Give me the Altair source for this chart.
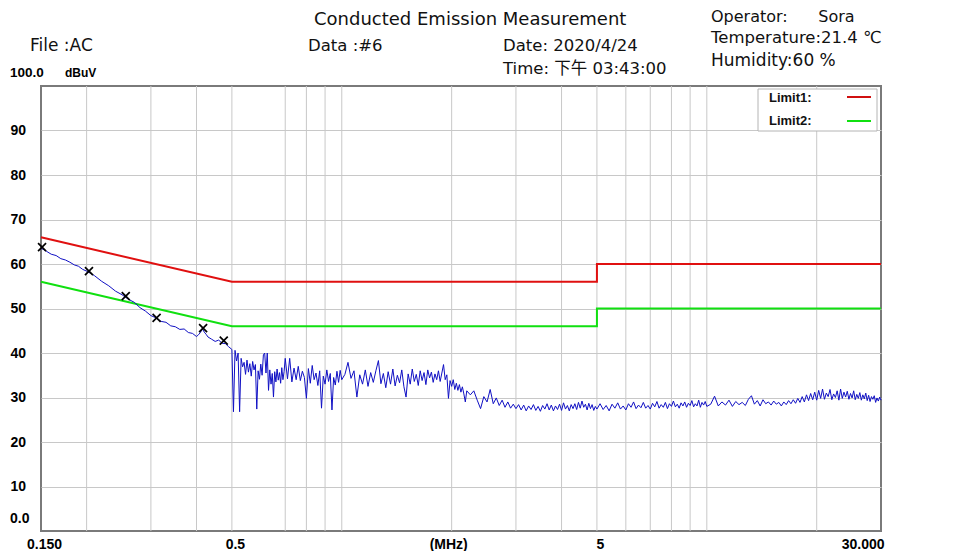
import altair as alt
import pandas as pd

FONT = "Liberation Sans, Arial, Noto Sans CJK SC, sans-serif"
HFONT = "DejaVu Sans, Liberation Sans, Noto Sans CJK SC, sans-serif"
NARROW = "Liberation Sans Narrow, Liberation Sans, Arial, sans-serif"

# ---------------- data ----------------
FREQ_A = [0.150, 0.152, 0.155, 0.16, 0.165, 0.17, 0.175, 0.18, 0.185, 0.19,
          0.195, 0.20, 0.205, 0.21, 0.22, 0.23, 0.24, 0.25, 0.26, 0.27,
          0.28, 0.29, 0.30, 0.31, 0.32, 0.33, 0.34, 0.35, 0.36, 0.37,
          0.38, 0.39, 0.40, 0.405, 0.41, 0.415, 0.42, 0.425, 0.43, 0.44,
          0.45, 0.46, 0.47, 0.48, 0.49, 0.50]
LEVEL_A = [63.5, 63.3, 62.9, 62.2, 61.9, 61.2, 60.9, 60.4, 59.8, 59.5,
           58.8, 58.4, 57.9, 57.4, 56.1, 55.1, 53.9, 53.1, 52.1, 51.4,
           50.2, 49.4, 48.4, 47.9, 47.1, 46.9, 46.1, 45.9, 45.3, 45.4,
           44.6, 44.4, 43.7, 44.1, 44.6, 45.5, 44.7, 44.2, 43.6, 43.1,
           42.6, 42.9, 42.2, 42.1, 41.4, 40.8]

FREQ_B1 = [0.505, 0.51, 0.515, 0.52, 0.525, 0.53, 0.535, 0.54, 0.545, 0.55,
           0.555, 0.56, 0.565, 0.57, 0.575, 0.58, 0.585, 0.59, 0.595, 0.60,
           0.605, 0.61, 0.615, 0.62, 0.625, 0.63, 0.635, 0.64, 0.645, 0.65,
           0.655, 0.66, 0.665, 0.67, 0.675, 0.68, 0.685, 0.69, 0.695, 0.70]
LEVEL_B1 = [26.8, 40.6, 38.2, 40.0, 26.8, 38.8, 36.9, 37.9, 35.2, 38.4,
            35.7, 37.6, 34.8, 38.1, 36.2, 37.4, 27.4, 36.0, 34.1, 37.5,
            35.0, 39.6, 40.0, 35.5, 40.0, 31.6, 36.2, 33.0, 35.4, 30.1,
            35.8, 33.5, 36.4, 33.9, 35.6, 33.2, 36.7, 34.0, 35.8, 38.8]

FREQ_B2 = [0.71, 0.72, 0.73, 0.74, 0.75, 0.76, 0.77, 0.78, 0.79, 0.80,
           0.81, 0.82, 0.83, 0.84, 0.85, 0.86, 0.87, 0.88, 0.89, 0.90,
           0.91, 0.92, 0.93, 0.94, 0.95, 0.96, 0.97, 0.98, 0.99, 1.00]
LEVEL_B2 = [34.2, 38.8, 33.5, 36.6, 34.0, 37.0, 33.8, 35.9, 34.5, 29.8,
            36.5, 33.2, 37.2, 34.0, 35.5, 32.7, 36.0, 27.6, 34.8, 33.0,
            36.2, 33.6, 35.4, 27.2, 34.5, 32.8, 35.9, 33.4, 36.1, 34.0]

FREQ_B3 = [1.02, 1.04, 1.06, 1.08, 1.10, 1.12, 1.14, 1.16, 1.18, 1.20,
           1.22, 1.24, 1.26, 1.28, 1.30, 1.32, 1.34, 1.36, 1.38, 1.40,
           1.42, 1.44, 1.46, 1.48, 1.50, 1.52, 1.54, 1.56, 1.58, 1.60,
           1.62, 1.64, 1.66, 1.68, 1.70, 1.72, 1.74, 1.76, 1.78, 1.80,
           1.82, 1.84, 1.86, 1.88, 1.90, 1.92, 1.94, 1.96, 1.98, 2.00,
           2.02, 2.04, 2.06, 2.08, 2.10, 2.12, 2.14, 2.16, 2.18, 2.20]
LEVEL_B3 = [35.2, 37.9, 34.3, 36.0, 30.1, 35.1, 33.0, 36.2, 32.5, 35.6,
            33.4, 36.0, 38.3, 33.1, 35.4, 32.2, 35.8, 33.0, 36.4, 32.6,
            35.0, 33.3, 36.2, 32.4, 30.1, 35.3, 33.0, 36.4, 33.6, 35.2,
            32.7, 36.0, 33.8, 35.6, 32.9, 36.2, 34.4, 35.7, 33.4, 35.3,
            34.0, 36.0, 33.6, 35.5, 37.4, 34.0, 35.1, 29.8, 33.8, 32.5,
            34.0, 31.8, 33.2, 31.6, 32.9, 31.2, 32.4, 30.8, 29.0, 31.5]

FREQ_B4 = [2.25, 2.30, 2.35, 2.40, 2.45, 2.50, 2.55, 2.60, 2.65, 2.70,
           2.75, 2.80, 2.85, 2.90, 2.95, 3.00, 3.05, 3.10, 3.15, 3.20,
           3.25, 3.30, 3.35, 3.40, 3.45, 3.50, 3.55, 3.60, 3.65, 3.70,
           3.75, 3.80, 3.85, 3.90, 3.95, 4.00, 4.05, 4.10, 4.15, 4.20,
           4.25, 4.30, 4.35, 4.40, 4.45, 4.50, 4.55, 4.60, 4.65, 4.70,
           4.75, 4.80, 4.85, 4.90, 4.95, 5.00]
LEVEL_B4 = [30.6, 31.5, 29.4, 27.5, 30.2, 29.0, 31.8, 28.6, 29.9, 28.2,
            29.4, 27.8, 29.0, 27.6, 28.5, 27.5, 28.4, 27.2, 28.3, 27.0,
            28.1, 27.3, 28.4, 27.1, 28.0, 26.9, 28.2, 27.4, 28.6, 27.2,
            28.3, 27.0, 28.1, 27.3, 28.5, 27.1, 28.8, 27.4, 28.2, 27.0,
            28.4, 27.5, 28.6, 27.3, 28.9, 27.6, 29.2, 27.8, 28.5, 27.2,
            28.7, 27.5, 28.4, 27.1, 28.0, 27.4]

FREQ_C = [5.1, 5.2, 5.3, 5.4, 5.5, 5.6, 5.7, 5.8, 5.9, 6.0,
          6.1, 6.2, 6.3, 6.4, 6.5, 6.6, 6.7, 6.8, 6.9, 7.0,
          7.1, 7.2, 7.3, 7.4, 7.5, 7.6, 7.7, 7.8, 7.9, 8.0,
          8.1, 8.2, 8.3, 8.4, 8.5, 8.6, 8.7, 8.8, 8.9, 9.0,
          9.1, 9.2, 9.3, 9.4, 9.5, 9.6, 9.7, 9.8, 9.9, 10.0]
LEVEL_C = [28.6, 27.3, 28.2, 27.0, 28.5, 27.6, 28.8, 27.4, 28.1, 27.2,
           28.6, 27.8, 29.0, 27.5, 28.3, 27.7, 28.9, 27.6, 28.2, 27.4,
           28.7, 27.9, 29.1, 27.6, 28.4, 27.8, 28.9, 27.5, 28.6, 28.0,
           29.2, 27.9, 28.5, 27.6, 28.8, 28.1, 29.0, 27.8, 28.7, 28.2,
           29.3, 27.9, 28.6, 28.1, 29.4, 27.8, 28.9, 28.3, 29.1, 28.0]

FREQ_D = [10.25, 10.50, 10.75, 11.00, 11.25, 11.50, 11.75, 12.00, 12.25, 12.50,
          12.75, 13.00, 13.25, 13.50, 13.75, 14.00, 14.25, 14.50, 14.75, 15.00,
          15.25, 15.50, 15.75, 16.00, 16.25, 16.50, 16.75, 17.00, 17.25, 17.50,
          17.75, 18.00, 18.25, 18.50, 18.75, 19.00, 19.25, 19.50, 19.75, 20.00,
          20.25, 20.50, 20.75, 21.00, 21.25, 21.50, 21.75, 22.00, 22.25, 22.50,
          22.75, 23.00, 23.25, 23.50, 23.75, 24.00, 24.25, 24.50, 24.75, 25.00,
          25.25, 25.50, 25.75, 26.00, 26.25, 26.50, 26.75, 27.00, 27.25, 27.50,
          27.75, 28.00, 28.25, 28.50, 28.75, 29.00, 29.25, 29.50, 29.75, 30.00]
LEVEL_D = [28.5, 30.3, 28.1, 29.0, 28.3, 29.4, 28.0, 29.1, 28.4, 28.9,
           28.2, 29.6, 30.4, 28.5, 29.3, 28.1, 29.5, 28.6, 29.0, 28.3,
           29.2, 28.5, 28.9, 28.1, 29.0, 28.4, 29.3, 28.6, 29.5, 28.7,
           29.8, 28.9, 30.2, 29.0, 30.6, 29.3, 30.9, 29.5, 31.2, 29.4,
           31.6, 29.8, 31.9, 29.6, 31.0, 30.2, 31.8, 29.5, 30.8, 30.0,
           31.5, 29.4, 31.9, 29.8, 31.2, 30.1, 31.4, 29.6, 30.9, 29.9,
           31.5, 29.5, 30.7, 29.8, 31.1, 29.4, 30.6, 29.7, 31.0, 29.3,
           30.5, 29.1, 30.2, 29.6, 30.4, 28.9, 29.9, 29.2, 30.1, 29.4]

LIMIT_FREQ = [0.15, 0.5, 5.0, 5.0, 30.0]
LIMIT1 = [66, 56, 56, 60, 60]
LIMIT2 = [56, 46, 46, 50, 50]

MARK_FREQ = [0.151, 0.203, 0.256, 0.311, 0.417, 0.475]
MARK_LEVEL = [63.8, 58.4, 52.8, 47.9, 45.6, 42.8]

GRID_FREQ = [0.2, 0.3, 0.4, 0.5, 0.7, 0.8, 0.9, 1, 2, 3, 4, 5, 6, 7, 8, 9, 10, 20]
Y_TICKS = [10, 20, 30, 40, 50, 60, 70, 80, 90]
X_TICKS = [0.15, 0.5, 1.92, 5, 30]

NB = "\u00a0"

# ---------------- tables ----------------
trace_f = FREQ_A + FREQ_B1 + FREQ_B2 + FREQ_B3 + FREQ_B4 + FREQ_C + FREQ_D
trace_v = LEVEL_A + LEVEL_B1 + LEVEL_B2 + LEVEL_B3 + LEVEL_B4 + LEVEL_C + LEVEL_D
trace = pd.DataFrame({"freq": trace_f, "level": trace_v, "i": range(len(trace_f))})
lim1 = pd.DataFrame({"freq": LIMIT_FREQ, "level": LIMIT1, "i": range(len(LIMIT_FREQ))})
lim2 = pd.DataFrame({"freq": LIMIT_FREQ, "level": LIMIT2, "i": range(len(LIMIT_FREQ))})
marks = pd.DataFrame({"freq": MARK_FREQ, "level": MARK_LEVEL})
grid = pd.DataFrame({"freq": GRID_FREQ})
ANCHOR = pd.DataFrame({"a": [0]})

XSCALE = alt.Scale(type="log", domain=[0.15, 30], nice=False, zero=False)
YSCALE = alt.Scale(domain=[0, 100], nice=False, zero=False)

XAXIS = alt.Axis(
    values=X_TICKS, title=None, grid=False, ticks=False, tickSize=0, domain=False,
    labelExpr="datum.value < 0.2 ? '0.150' : datum.value < 1 ? '0.5' : datum.value < 3 ? '(MHz)' : datum.value < 10 ? '5' : '30.000'",
    labelAlign={"condition": {"test": "datum.value > 20", "value": "right"}, "value": "center"},
    labelFont=FONT, labelFontSize=14, labelFontWeight="bold", labelColor="black",
    labelPadding=6, labelOverlap=False, labelBound=False, labelFlush=False, labelOffset=3,
)
YAXIS = alt.Axis(
    values=Y_TICKS, title=None, grid=True, gridColor="#c8c8c8", gridWidth=1,
    ticks=False, tickSize=0, domain=False,
    labelAlign="left", labelBaseline="middle", labelPadding=31,
    labelFont=FONT, labelFontSize=14, labelFontWeight="bold", labelColor="black",
    labelOverlap=False,
)

X_ENC = alt.X("freq:Q", scale=XSCALE, axis=XAXIS)
Y_ENC = alt.Y("level:Q", scale=YSCALE, axis=YAXIS)

grid_layer = alt.Chart(grid).mark_rule(color="#c8c8c8", strokeWidth=1).encode(x=X_ENC)

lim1_layer = alt.Chart(lim1).mark_line(color="#e01010", strokeWidth=2).encode(
    x=X_ENC, y=Y_ENC, order="i:Q")
lim2_layer = alt.Chart(lim2).mark_line(color="#10e010", strokeWidth=2).encode(
    x=X_ENC, y=Y_ENC, order="i:Q")
trace_layer = alt.Chart(trace).mark_line(color="#1010c4", strokeWidth=1).encode(
    x=X_ENC, y=Y_ENC, order="i:Q")
mark_layer = alt.Chart(marks).mark_point(
    shape="M -1 -1 L 1 1 M -1 1 L 1 -1", size=64, filled=False,
    stroke="black", strokeWidth=1.7, opacity=1).encode(x=X_ENC, y=Y_ENC)


def txt(text, x, y, size=16, weight="normal", font=HFONT, align="left", baseline="alphabetic"):
    return alt.Chart(ANCHOR).mark_text(
        text=text, align=align, baseline=baseline, font=font, fontSize=size,
        fontWeight=weight, color="#111111").encode(x=alt.value(x), y=alt.value(y))


# y end labels through the y scale
ylab0 = alt.Chart(pd.DataFrame({"level": [0]})).mark_text(
    text="0.0", align="left", baseline="middle", font=FONT, fontSize=14,
    fontWeight="bold", dy=-12, color="black").encode(x=alt.value(-31), y=Y_ENC)
ylab100 = alt.Chart(pd.DataFrame({"level": [100]})).mark_text(
    text="100.0", align="left", baseline="middle", font=FONT, fontSize=13.5,
    fontWeight="bold", dy=-13, color="black").encode(x=alt.value(-31), y=Y_ENC)
yunit = alt.Chart(pd.DataFrame({"level": [100]})).mark_text(
    text="dBuV", align="left", baseline="middle", font=FONT, fontSize=12,
    fontWeight="bold", dy=-13, color="black").encode(x=alt.value(24), y=Y_ENC)

# legend box
leg_box = alt.Chart(ANCHOR).mark_rect(fill="white", stroke="#b4b4b4", strokeWidth=1).encode(
    x=alt.value(717), x2=alt.value(836), y=alt.value(3), y2=alt.value(45))
leg_r = alt.Chart(ANCHOR).mark_rule(color="#d01010", strokeWidth=2).encode(
    x=alt.value(806), x2=alt.value(830), y=alt.value(11))
leg_g = alt.Chart(ANCHOR).mark_rule(color="#10e010", strokeWidth=2).encode(
    x=alt.value(806), x2=alt.value(830), y=alt.value(35))
leg_t1 = txt("Limit1:", 728, 16, size=13, weight="bold", font=NARROW)
leg_t2 = txt("Limit2:", 728, 39, size=13, weight="bold", font=NARROW)

headers = [
    txt("Conducted Emission Measurement", 273, -61, size=18),
    txt("Operator:" + NB * 6 + "Sora", 670, -64, size=16),
    txt("File :AC", -11, -35, size=17),
    txt("Data :#6", 267, -35, size=16.5),
    txt("Date: 2020/4/24", 462, -35, size=16.5),
    txt("Temperature:21.4 ℃", 670, -43, size=16.5),
    txt("Time: 下午 03:43:00", 462, -12, size=16.5),
    txt("Humidity:60 %", 670, -20, size=17),
]

chart = alt.layer(
    grid_layer, lim1_layer, lim2_layer, trace_layer, mark_layer,
    ylab0, ylab100, yunit,
    leg_box, leg_r, leg_g, leg_t1, leg_t2,
    *headers,
).properties(
    width=840, height=445,
    padding={"left": 33, "top": 78, "right": 70, "bottom": 20},
    autosize=alt.AutoSizeParams(type="none"),
    background="white",
).configure_view(stroke="#7a7a7a", strokeWidth=2)

chart.save("out.html", embed_options={"renderer": "svg", "actions": False})
